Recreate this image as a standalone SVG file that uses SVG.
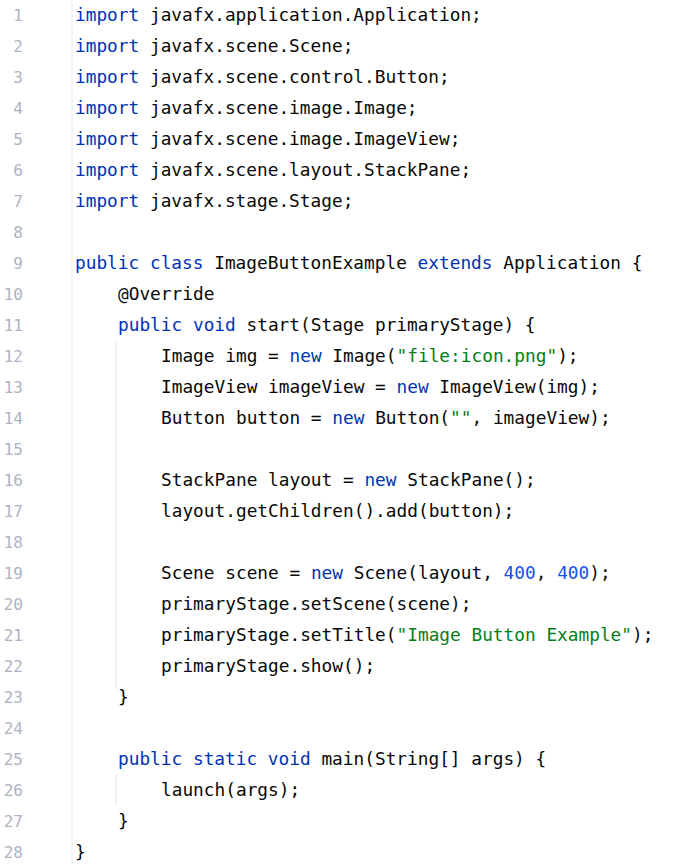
<svg xmlns="http://www.w3.org/2000/svg" width="699" height="864" viewBox="0 0 699 864">
<style>
.c{font-family:"DejaVu Sans Mono","Liberation Mono",monospace;font-size:17.8px;fill:#080808;white-space:pre}
.n{font-family:"DejaVu Sans Mono","Liberation Mono",monospace;font-size:16px;fill:#aeb3c2;text-anchor:end}
.k{fill:#0033b3}.s{fill:#067d17}.d{fill:#1750eb}
</style>
<rect width="699" height="864" fill="#fff"/>
<line x1="72" y1="0" x2="72" y2="864" stroke="#ebecf0" stroke-width="1"/>
<g stroke="#e4e4e4" stroke-width="1">
<line x1="116" y1="340" x2="116" y2="690"/>
<line x1="116" y1="774" x2="116" y2="805"/>
</g>
<g id="numbers">
<text class="n" x="23" y="21">1</text><text class="n" x="23" y="52">2</text><text class="n" x="23" y="83">3</text><text class="n" x="23" y="114">4</text><text class="n" x="23" y="145">5</text><text class="n" x="23" y="176">6</text><text class="n" x="23" y="207">7</text><text class="n" x="23" y="238">8</text><text class="n" x="23" y="269">9</text><text class="n" x="23" y="300">10</text><text class="n" x="23" y="331">11</text><text class="n" x="23" y="362">12</text><text class="n" x="23" y="393">13</text><text class="n" x="23" y="424">14</text><text class="n" x="23" y="455">15</text><text class="n" x="23" y="486">16</text><text class="n" x="23" y="517">17</text><text class="n" x="23" y="548">18</text><text class="n" x="23" y="579">19</text><text class="n" x="23" y="610">20</text><text class="n" x="23" y="641">21</text><text class="n" x="23" y="672">22</text><text class="n" x="23" y="703">23</text><text class="n" x="23" y="734">24</text><text class="n" x="23" y="765">25</text><text class="n" x="23" y="796">26</text><text class="n" x="23" y="827">27</text><text class="n" x="23" y="858">28</text>
</g>
<g id="code">
<text class="c" x="75" y="21"><tspan class="k">import</tspan> javafx.application.Application;</text>
<text class="c" x="75" y="52"><tspan class="k">import</tspan> javafx.scene.Scene;</text>
<text class="c" x="75" y="83"><tspan class="k">import</tspan> javafx.scene.control.Button;</text>
<text class="c" x="75" y="114"><tspan class="k">import</tspan> javafx.scene.image.Image;</text>
<text class="c" x="75" y="145"><tspan class="k">import</tspan> javafx.scene.image.ImageView;</text>
<text class="c" x="75" y="176"><tspan class="k">import</tspan> javafx.scene.layout.StackPane;</text>
<text class="c" x="75" y="207"><tspan class="k">import</tspan> javafx.stage.Stage;</text>
<text class="c" x="75" y="269"><tspan class="k">public class</tspan> ImageButtonExample <tspan class="k">extends</tspan> Application {</text>
<text class="c" x="118" y="300">@Override</text>
<text class="c" x="118" y="331"><tspan class="k">public void</tspan> start(Stage primaryStage) {</text>
<text class="c" x="161" y="362">Image img = <tspan class="k">new</tspan> Image(<tspan class="s">"file:icon.png"</tspan>);</text>
<text class="c" x="161" y="393">ImageView imageView = <tspan class="k">new</tspan> ImageView(img);</text>
<text class="c" x="161" y="424">Button button = <tspan class="k">new</tspan> Button(<tspan class="s">""</tspan>, imageView);</text>
<text class="c" x="161" y="486">StackPane layout = <tspan class="k">new</tspan> StackPane();</text>
<text class="c" x="161" y="517">layout.getChildren().add(button);</text>
<text class="c" x="161" y="579">Scene scene = <tspan class="k">new</tspan> Scene(layout, <tspan class="d">400</tspan>, <tspan class="d">400</tspan>);</text>
<text class="c" x="161" y="610">primaryStage.setScene(scene);</text>
<text class="c" x="161" y="641">primaryStage.setTitle(<tspan class="s">"Image Button Example"</tspan>);</text>
<text class="c" x="161" y="672">primaryStage.show();</text>
<text class="c" x="118" y="703">}</text>
<text class="c" x="118" y="765"><tspan class="k">public static void</tspan> main(String[] args) {</text>
<text class="c" x="161" y="796">launch(args);</text>
<text class="c" x="118" y="827">}</text>
<text class="c" x="75" y="858">}</text>
</g>
</svg>
